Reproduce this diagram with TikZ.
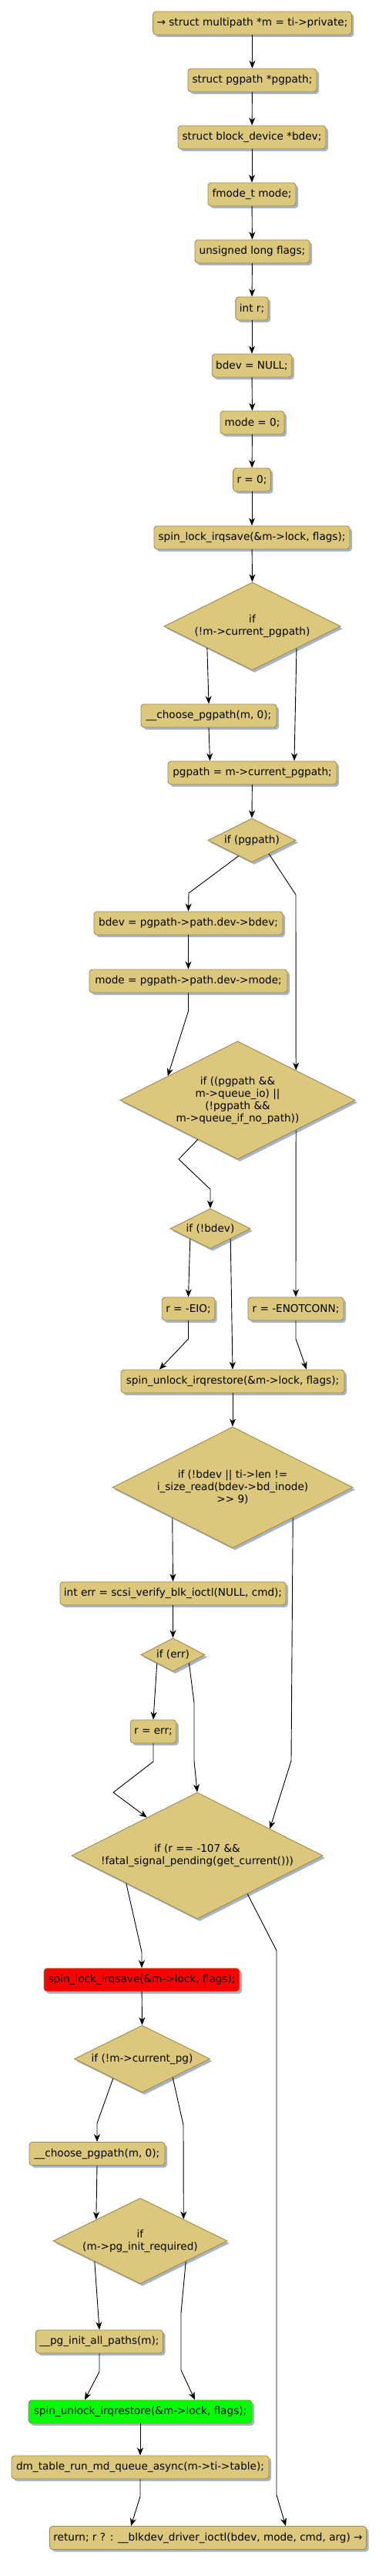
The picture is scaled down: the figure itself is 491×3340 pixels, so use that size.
\documentclass[tikz,border=0pt]{standalone}
\usepackage{fontspec}
\setmainfont{DejaVu Sans}
\usetikzlibrary{shapes.geometric,arrows.meta,calc,shadows}
\definecolor{fillc}{HTML}{DBC87C}
\definecolor{bordc}{HTML}{A08C48}
\definecolor{shadc}{HTML}{A5B3CC}
\definecolor{redc}{HTML}{FF0000}
\definecolor{greenc}{HTML}{00FF00}
\tikzset{
  base/.style={draw=bordc,fill=fillc,line width=0.9pt,
    drop shadow={shadow xshift=3pt,shadow yshift=-3pt,fill=shadc,opacity=1},
    font=\fontsize{13.6}{16}\selectfont},
  actbox/.style={base,rectangle,rounded corners=4pt,minimum height=30pt,inner xsep=5pt,inner ysep=0pt},
  decis/.style={base,diamond,aspect=2,inner sep=0pt,align=center},
  conn/.style={line width=0.9pt,black,-{Stealth[length=10pt,width=8pt,inset=3pt]}},
}
\begin{document}
\begin{tikzpicture}[x=1pt,y=-1pt]
\useasboundingbox (0,0) rectangle (491,3340);
% boxes
\node[actbox,minimum width=253pt] (b1) at (327.5,30) {→ struct multipath *m = ti->private;};
\node[actbox,minimum width=167pt] (b2) at (327.5,104) {struct pgpath *pgpath;};
\node[actbox,minimum width=192pt] (b3) at (327,178) {struct block\_device *bdev;};
\node[actbox,minimum width=114pt] (b4) at (327,252) {fmode\_t mode;};
\node[actbox,minimum width=149pt] (b5) at (327.5,326) {unsigned long flags;};
\node[actbox,minimum width=40pt] (b6) at (327,400) {int r;};
\node[actbox,minimum width=102pt] (b7) at (327,474) {bdev = NULL;};
\node[actbox,minimum width=83pt] (b8) at (327.5,548) {mode = 0;};
\node[actbox,minimum width=48pt] (b9) at (327,622) {r = 0;};
\node[actbox,minimum width=254pt] (b10) at (327,697) {spin\_lock\_irqsave(\&m->lock, flags);};
\node[decis,minimum width=229pt,minimum height=114pt] (d1) at (327.5,812) {if\\(!m->current\_pgpath)};
\node[actbox,minimum width=176pt] (b11) at (271,928) {\_\_choose\_pgpath(m, 0);};
\node[actbox,minimum width=219pt] (b12) at (327.5,1002) {pgpath = m->current\_pgpath;};
\node[decis,minimum width=114pt,minimum height=57pt] (d2) at (327,1089.5) {if (pgpath)};
\node[actbox,minimum width=245pt] (b13) at (244.5,1197) {bdev = pgpath->path.dev->bdev;};
\node[actbox,minimum width=257pt] (b14) at (244.5,1272) {mode = pgpath->path.dev->mode;};
\node[decis,minimum width=305pt,minimum height=153pt] (d3) at (308.5,1426.5) {if ((pgpath \&\&\\m->queue\_io) ||\\(!pgpath \&\&\\m->queue\_if\_no\_path))};
\node[decis,minimum width=104pt,minimum height=52pt] (d4) at (273,1593) {if (!bdev)};
\node[actbox,minimum width=67pt] (b15) at (244.5,1697) {r = -EIO;};
\node[actbox,minimum width=124pt] (b16) at (384,1697) {r = -ENOTCONN;};
\node[actbox,minimum width=290pt] (b17) at (302,1791) {spin\_unlock\_irqrestore(\&m->lock, flags);};
\node[decis,minimum width=312pt,minimum height=157pt] (d5) at (302,1928.5) {if (!bdev || ti->len !=\\i\_size\_read(bdev->bd\_inode)\\>{}> 9)};
\node[actbox,minimum width=287pt] (b18) at (224.5,2066) {int err = scsi\_verify\_blk\_ioctl(NULL, cmd);};
\node[decis,minimum width=83pt,minimum height=43pt] (d6) at (224.5,2145.5) {if (err)};
\node[actbox,minimum width=58pt] (b19) at (199,2245) {r = err;};
\node[decis,minimum width=326pt,minimum height=164pt] (d7) at (256,2406) {if (r == -107 \&\&\\!fatal\_signal\_pending(get\_current()))};
\node[actbox,fill=redc,minimum width=254pt] (b20) at (184,2567) {spin\_lock\_irqsave(\&m->lock, flags);};
\node[decis,minimum width=176pt,minimum height=87pt] (d8) at (184.5,2669.5) {if (!m->current\_pg)};
\node[actbox,minimum width=176pt] (b21) at (126,2792.5) {\_\_choose\_pgpath(m, 0);};
\node[decis,minimum width=226pt,minimum height=111pt] (d9) at (182,2905.5) {if\\(m->pg\_init\_required)};
\node[actbox,minimum width=162pt] (b22) at (129,3036) {\_\_pg\_init\_all\_paths(m);};
\node[actbox,fill=greenc,minimum width=290pt] (b23) at (182,3127) {spin\_unlock\_irqrestore(\&m->lock, flags);};
\node[actbox,minimum width=334pt] (b24) at (182,3199) {dm\_table\_run\_md\_queue\_async(m->ti->table);};
\node[actbox,minimum width=404pt] (b25) at (270,3290.5) {return; r ? : \_\_blkdev\_driver\_ioctl(bdev, mode, cmd, arg) →};
% connectors
\draw[conn] (b1) -- (b2);
\draw[conn] (b2) -- (b3);
\draw[conn] (b3) -- (b4);
\draw[conn] (b4) -- (b5);
\draw[conn] (b5) -- (b6);
\draw[conn] (b6) -- (b7);
\draw[conn] (b7) -- (b8);
\draw[conn] (b8) -- (b9);
\draw[conn] (b9) -- (b10);
\draw[conn] (b10) -- (d1.north);
\draw[conn] ($(d1.west)!0.49!(d1.south)$) -- (b11.north);
\draw[conn] ($(d1.east)!0.5!(d1.south)$) -- ([xshift=54.5pt]b12.north);
\draw[conn] (b11.south) -- ([xshift=-55pt]b12.north);
\draw[conn] (b12) -- (d2.north);
\draw[conn] ($(d2.west)!0.7!(d2.south)$) -- (245,1158) -- (b13.north);
\draw[conn] ($(d2.east)!0.614!(d2.south)$) -- (384,1160) -- ($(d3.north)!0.495!(d3.east)$);
\draw[conn] (b13) -- (b14);
\draw[conn] (b14.south) -- (244.5,1311) -- ($(d3.west)!0.407!(d3.north)$);
\draw[conn] ($(d3.west)!0.662!(d3.south)$) -- (232,1503) -- (273,1542) -- (d4.north);
\draw[conn] ($(d3.east)!0.505!(d3.south)$) -- (b16.north);
\draw[conn] ($(d4.west)!0.5!(d4.south)$) -- (b15.north);
\draw[conn] ($(d4.east)!0.5!(d4.south)$) -- (b17.north);
\draw[conn] (b15.south) -- (244.5,1736) -- ([xshift=-95pt]b17.north);
\draw[conn] (b16.south) -- (384,1736) -- ([xshift=96pt]b17.north);
\draw[conn] (b17) -- (d5.north);
\draw[conn] ($(d5.west)!0.5!(d5.south)$) -- (b18.north);
\draw[conn] ($(d5.east)!0.5!(d5.south)$) -- (378,2283) -- ($(d7.north)!0.577!(d7.east)$);
\draw[conn] (b18) -- (d6.north);
\draw[conn] ($(d6.west)!0.506!(d6.south)$) -- (b19.north);
\draw[conn] ($(d6.east)!0.5!(d6.south)$) -- (252,2208) -- (252,2283) -- (d7.north);
\draw[conn] (b19.south) -- (199,2284) -- (147,2324) -- ($(d7.west)!0.601!(d7.north)$);
\draw[conn] ($(d7.west)!0.436!(d7.south)$) -- (184,2531) -- (b20.north);
\draw[conn] ($(d7.east)!0.601!(d7.south)$) -- (359,2529) -- (359,3235) -- ([xshift=101pt]b25.north);
\draw[conn] (b20) -- (d8.north);
\draw[conn] ($(d8.west)!0.574!(d8.south)$) -- (126,2753) -- (b21.north);
\draw[conn] ($(d8.east)!0.551!(d8.south)$) -- (238,2755) -- ($(d9.north)!0.496!(d9.east)$);
\draw[conn] (b21.south) -- ($(d9.west)!0.496!(d9.north)$);
\draw[conn] ($(d9.west)!0.478!(d9.south)$) -- (b22.north);
\draw[conn] ($(d9.east)!0.478!(d9.south)$) -- (235,2999) -- (235,3073) -- ([xshift=71pt]b23.north);
\draw[conn] (b22.south) -- (129,3075) -- ([xshift=-72pt]b23.north);
\draw[conn] (b23) -- (b24);
\draw[conn] (b24.south) -- (182,3237) -- ([xshift=-100pt]b25.north);
\end{tikzpicture}
\end{document}
